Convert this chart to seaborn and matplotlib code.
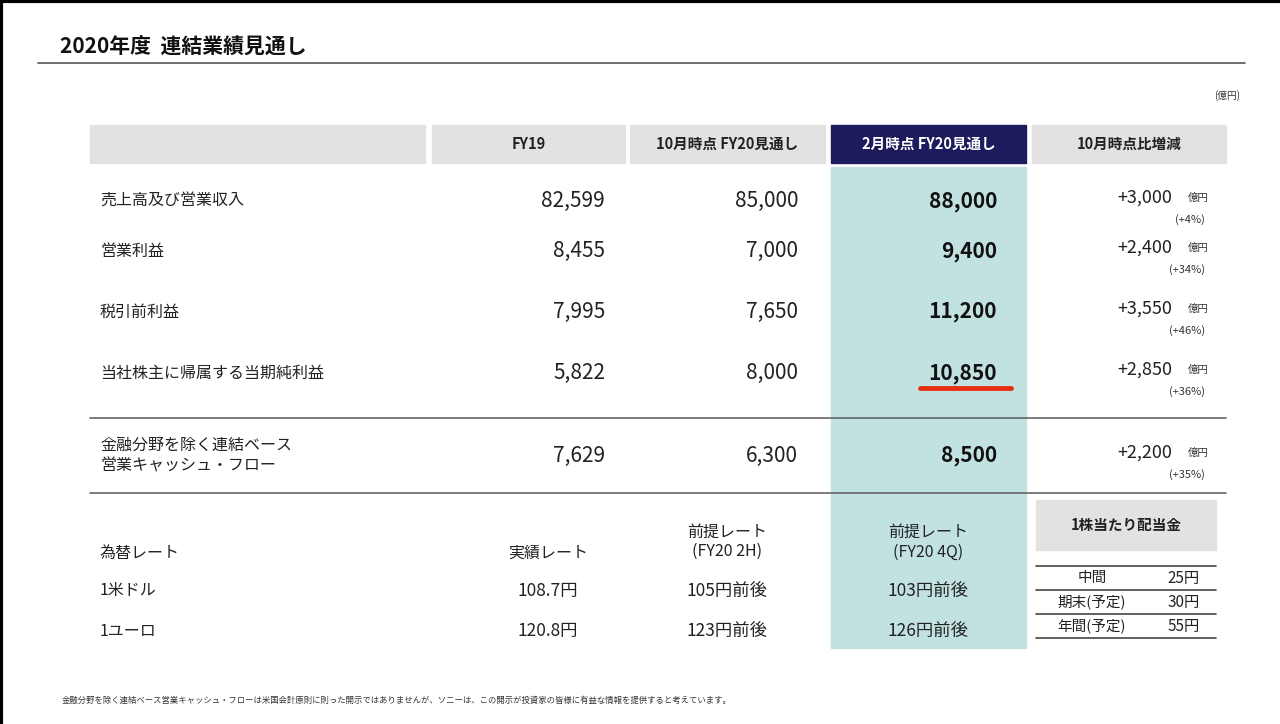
import matplotlib
matplotlib.use("Agg")
import matplotlib.pyplot as plt
import seaborn as sns
from matplotlib.patches import Rectangle

sns.set_theme(style="white", font="Noto Sans CJK JP")

title = "2020年度  連結業績見通し"
headers = ["FY19", "10月時点 FY20見通し", "2月時点 FY20見通し", "10月時点比増減"]
row_labels = ["売上高及び営業収入", "営業利益", "税引前利益", "当社株主に帰属する当期純利益",
              "金融分野を除く連結ベース\n営業キャッシュ・フロー"]
fy19 = [82599, 8455, 7995, 5822, 7629]
oct_fc = [85000, 7000, 7650, 8000, 6300]
feb_fc = [88000, 9400, 11200, 10850, 8500]
diff = [3000, 2400, 3550, 2850, 2200]
diff_pct = [4, 34, 46, 36, 35]
fx_labels = ["1米ドル", "1ユーロ"]
fx_actual = ["108.7円", "120.8円"]
fx_2h = ["105円前後", "123円前後"]
fx_4q = ["103円前後", "126円前後"]
div_labels = ["中間", "期末(予定)", "年間(予定)"]
div_values = ["25円", "30円", "55円"]

fig = plt.figure(figsize=(12.8, 7.24), dpi=100)
ax = fig.add_axes([0, 0, 1, 1])
ax.set_xlim(0, 1280); ax.set_ylim(724, 0); ax.axis("off")
fig.patch.set_facecolor("white")

# frame edges
ax.plot([1, 1], [0, 724], color="black", lw=3)
ax.plot([0, 1280], [1, 1], color="black", lw=3)

ax.text(60, 47, title, fontsize=15, fontweight="bold", va="center", color="#111")
ax.plot([38, 1245], [63, 63], color="#555", lw=1.2)
ax.text(1240, 96, "(億円)", fontsize=7, ha="right", va="center", color="#333")

# teal column
ax.add_patch(Rectangle((831, 167), 195, 481, color="#c2e2e2", zorder=0))
# headers
hx = [(90, 425), (432, 625), (630, 825), (831, 1026), (1032, 1226)]
for i, (a, b) in enumerate(hx):
    fc = "#1c1c5c" if i == 3 else "#e2e2e2"
    ax.add_patch(Rectangle((a, 125), b - a, 38, color=fc, zorder=1))
    if i > 0:
        ax.text((a + b) / 2, 144, headers[i - 1], fontsize=10.5, fontweight="bold",
                ha="center", va="center", color="white" if i == 3 else "#222", zorder=2)

ys = [201, 251, 312, 373, 456]
for i, y in enumerate(ys):
    ax.text(100, y, row_labels[i], fontsize=11.5, va="center", color="#222", linespacing=1.3)
    ax.text(605, y, f"{fy19[i]:,}", fontsize=15, ha="right", va="center", color="#222")
    ax.text(798, y, f"{oct_fc[i]:,}", fontsize=15, ha="right", va="center", color="#222")
    ax.text(997, y, f"{feb_fc[i]:,}", fontsize=15, ha="right", va="center", color="#111", fontweight="bold")
    ax.text(1172, y - 3, f"+{diff[i]:,}", fontsize=13, ha="right", va="center", color="#222")
    ax.text(1188, y - 3, "億円", fontsize=7.5, ha="left", va="center", color="#333")
    ax.text(1205, y + 19, f"(+{diff_pct[i]}%)", fontsize=8, ha="right", va="center", color="#333")
ax.plot([920, 1011], [388, 388], color="#e8300e", lw=3.5)
for y in (418, 493):
    ax.plot([90, 1226], [y, y], color="#666", lw=1.2)

# fx section
ax.text(100, 553, "為替レート", fontsize=11.5, va="center", color="#222")
ax.text(548, 553, "実績レート", fontsize=11.5, ha="center", va="center", color="#222")
ax.text(727, 542, "前提レート\n(FY20 2H)", fontsize=11.5, ha="center", va="center", color="#222", linespacing=1.2)
ax.text(928, 542, "前提レート\n(FY20 4Q)", fontsize=11.5, ha="center", va="center", color="#222", linespacing=1.2)
for j, y in enumerate([591, 631]):
    ax.text(100, y, fx_labels[j], fontsize=11.5, va="center", color="#222")
    ax.text(548, y, fx_actual[j], fontsize=12.5, ha="center", va="center", color="#222")
    ax.text(727, y, fx_2h[j], fontsize=12.5, ha="center", va="center", color="#222")
    ax.text(928, y, fx_4q[j], fontsize=12.5, ha="center", va="center", color="#222")

# dividend box
ax.add_patch(Rectangle((1036, 500), 180, 50, color="#e2e2e2", zorder=1))
ax.text(1126, 525, "1株当たり配当金", fontsize=10.5, fontweight="bold", ha="center", va="center", color="#222", zorder=2)
for y in (566, 590, 614, 638):
    ax.plot([1036, 1216], [y, y], color="#444", lw=1.2)
for k, y in enumerate([578, 602, 626]):
    ax.text(1092, y, div_labels[k], fontsize=10.5, ha="center", va="center", color="#222")
    ax.text(1200, y, div_values[k], fontsize=11, ha="right", va="center", color="#222")

ax.text(62, 700, "金融分野を除く連結ベース営業キャッシュ・フローは米国会計原則に則った開示ではありませんが、ソニーは、この開示が投資家の皆様に有益な情報を提供すると考えています。",
        fontsize=6, va="center", color="#333")

fig.savefig("out.png", dpi=100)
